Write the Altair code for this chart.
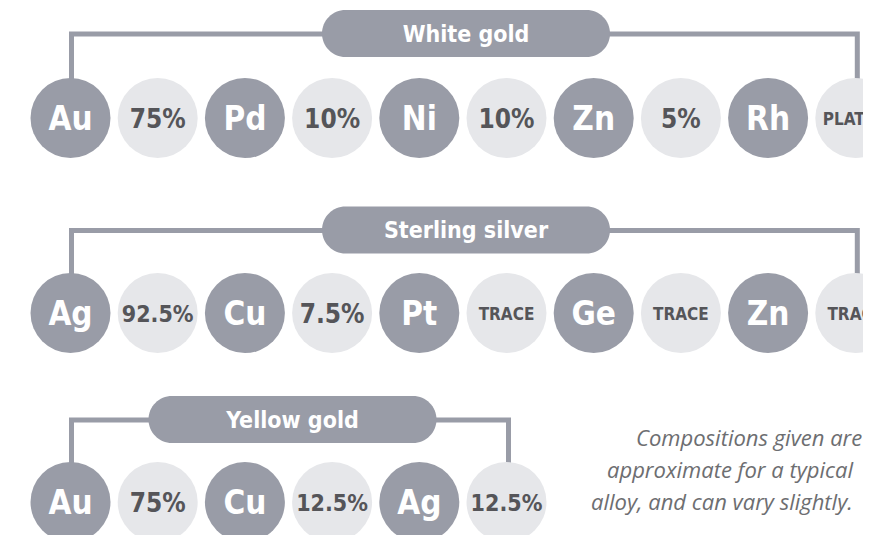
import altair as alt
import pandas as pd

# ---------------- data ----------------
alloy_names = ["White gold", "Sterling silver", "Yellow gold"]
white_gold_elements = ["Au", "Pd", "Ni", "Zn", "Rh"]
white_gold_shares = ["75%", "10%", "10%", "5%", "PLATED"]
sterling_elements = ["Ag", "Cu", "Pt", "Ge", "Zn"]
sterling_shares = ["92.5%", "7.5%", "TRACE", "TRACE", "TRACE"]
yellow_gold_elements = ["Au", "Cu", "Ag"]
yellow_gold_shares = ["75%", "12.5%", "12.5%"]
note_lines = [
    "Compositions given are",
    "approximate for a typical",
    "alloy, and can vary slightly.",
]

# ---------------- layout (page pixels) ----------------
VIEW_W, PAGE_H, MARGIN = 863, 535, 8
FIRST_X, STEP, DIAM = 70.5, 87.2, 80
ROW_CIRCLE_Y = [118, 313, 502]
ROW_PILL_Y = [33.5, 230, 419.5]
PILL_CX = [466, 466, 292.5]
PILL_W, PILL_H = 288, 47
NOTE_X = [636, 607, 591]
NOTE_Y = [446, 478, 510]

DARK = "#999ca7"
LIGHT = "#e6e7ea"
SHARE_TXT = "#555559"
NOTE_TXT = "#6d6e71"
COND = "DejaVu Sans Condensed"

rows = [
    (white_gold_elements, white_gold_shares),
    (sterling_elements, sterling_shares),
    (yellow_gold_elements, yellow_gold_shares),
]

circ, lines, pills = [], [], []
for r, (els, shares) in enumerate(rows):
    cy = ROW_CIRCLE_Y[r]
    labels = []
    for e, s in zip(els, shares):
        labels += [("element", e), ("share", s)]
    for i, (kind, lab) in enumerate(labels):
        if kind == "share":
            fs = 17 if lab.isalpha() else (23 if len(lab) >= 5 else 26)
        else:
            fs = 33
        circ.append(dict(x=FIRST_X + STEP * i, y=cy, kind=kind, label=lab, fs=fs))
    n = len(labels)
    lx = FIRST_X + 1
    rx = FIRST_X + STEP * (n - 1) + 2
    top = ROW_PILL_Y[r] + 0.5
    bot = cy - DIAM / 2 + 2
    for o, (px, py) in enumerate([(lx, bot), (lx, top), (rx, top), (rx, bot)]):
        lines.append(dict(row=alloy_names[r], o=o, x=px, y=py))
    pills.append(dict(name=alloy_names[r],
                      x=PILL_CX[r] - PILL_W / 2, x2=PILL_CX[r] + PILL_W / 2,
                      y=ROW_PILL_Y[r] - PILL_H / 2, y2=ROW_PILL_Y[r] + PILL_H / 2,
                      cx=PILL_CX[r], cy=ROW_PILL_Y[r]))

circ_df = pd.DataFrame(circ)
lines_df = pd.DataFrame(lines)
pills_df = pd.DataFrame(pills)
note_df = pd.DataFrame(dict(text=note_lines, x=NOTE_X, y=NOTE_Y))

xs = alt.Scale(domain=[MARGIN, VIEW_W], nice=False, zero=False)
ys = alt.Scale(domain=[MARGIN, PAGE_H], nice=False, zero=False, reverse=True)
X = lambda f="x": alt.X(f"{f}:Q", scale=xs, axis=None)
Y = lambda f="y": alt.Y(f"{f}:Q", scale=ys, axis=None)

line_layer = alt.Chart(lines_df).mark_line(
    color=DARK, strokeWidth=5, strokeJoin="miter", strokeCap="butt", clip=True
).encode(x=X(), y=Y(), detail="row:N", order="o:Q")

pill_layer = alt.Chart(pills_df).mark_rect(
    color=DARK, cornerRadius=PILL_H / 2, clip=True
).encode(x=X(), x2="x2:Q", y=Y(), y2="y2:Q")

pill_text = alt.Chart(pills_df).mark_text(
    font=COND, fontWeight="bold", fontSize=23, color="white", baseline="middle", dy=1
).encode(x=X("cx"), y=Y("cy"), text="name:N")

circle_layer = alt.Chart(circ_df).mark_circle(
    size=DIAM * DIAM, opacity=1, clip=True
).encode(
    x=X(), y=Y(),
    color=alt.Color("kind:N", scale=alt.Scale(domain=["element", "share"], range=[DARK, LIGHT]), legend=None),
)

el_text = alt.Chart(circ_df).transform_filter("datum.kind == 'element'").mark_text(
    font=COND, fontWeight="bold", color="white", baseline="middle", dy=2, clip=True
).encode(x=X(), y=Y(), text="label:N", size=alt.Size("fs:Q", scale=None))

share_text = alt.Chart(circ_df).transform_filter("datum.kind == 'share'").mark_text(
    font=COND, fontWeight="bold", color=SHARE_TXT, baseline="middle", dy=2, clip=True
).encode(x=X(), y=Y(), text="label:N", size=alt.Size("fs:Q", scale=None))

note_text = alt.Chart(note_df).mark_text(
    font="Open Sans", fontStyle="italic", fontSize=22, color=NOTE_TXT, align="left",
    baseline="alphabetic", clip=True
).encode(x=X(), y=Y(), text="text:N")

chart = alt.layer(
    line_layer, pill_layer, pill_text, circle_layer, el_text, share_text, note_text
).properties(
    width=VIEW_W - MARGIN, height=PAGE_H - MARGIN, padding=0,
    autosize=alt.AutoSizeParams(type="none"), background="white",
).configure_view(stroke=None)

chart.save("out.html", embed_options={"renderer": "svg", "actions": False})
